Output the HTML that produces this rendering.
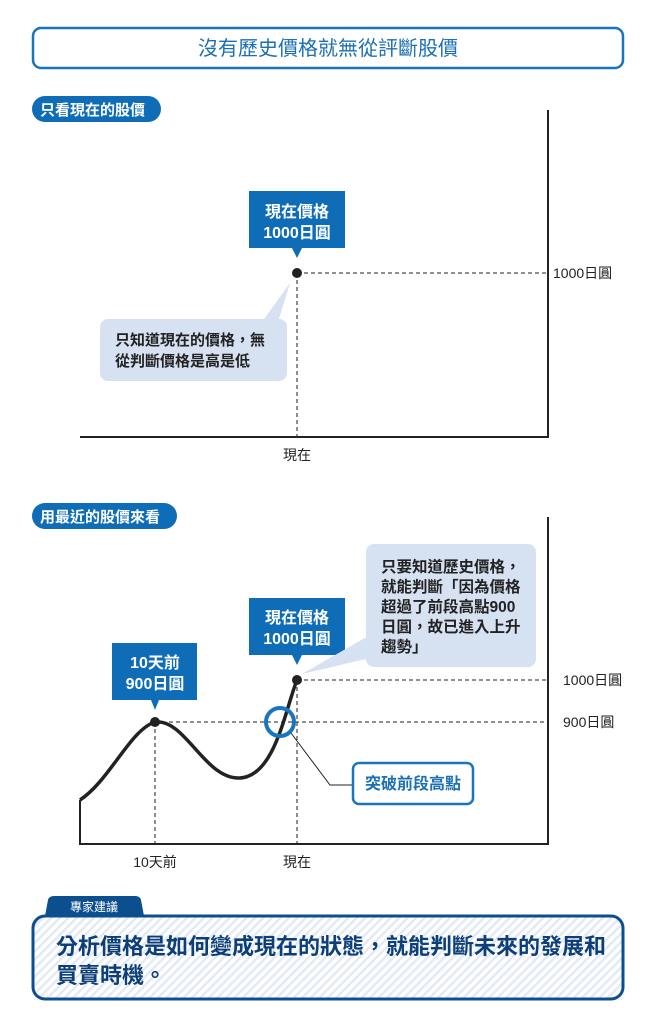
<!DOCTYPE html>
<html><head><meta charset="utf-8"><style>
body{margin:0;background:#fff;}
svg{display:block;font-family:"Liberation Sans","Noto Sans CJK TC",sans-serif;}
</style></head><body>
<svg width="655" height="1024" viewBox="0 0 655 1024">
<defs>
<pattern id="st" width="6" height="6" patternUnits="userSpaceOnUse" patternTransform="rotate(45)">
<rect width="6" height="6" fill="#fff"/><rect width="2.5" height="6" fill="#e3eaf5"/>
</pattern>
</defs>
<rect x="33" y="28" width="590" height="40" rx="8" fill="#fff" stroke="#1a75bc" stroke-width="2.5"/>
<text x="328" y="55" font-size="20" fill="#1a6fb5" text-anchor="middle">沒有歷史價格就無從評斷股價</text>
<rect x="32" y="96" width="129" height="26" rx="13" fill="#0f6db8"/>
<text x="40" y="115" font-size="15" font-weight="bold" fill="#fff">只看現在的股價</text>
<g stroke="#222" fill="none">
<path d="M548 110V437H80" stroke-width="2"/>
<path d="M297 273H548M297 273V437" stroke-width="1" stroke-dasharray="4,3"/>
</g>
<circle cx="297" cy="273" r="5" fill="#222"/>
<text x="553" y="278" font-size="14" fill="#222">1000日圓</text>
<text x="297" y="460" font-size="14" fill="#222" text-anchor="middle">現在</text>
<path d="M249 191H345V248H302L297 258L292 248H249Z" fill="#0f6db8"/>
<text x="297" y="217" font-size="16" font-weight="bold" fill="#fff" text-anchor="middle">現在價格</text>
<text x="297" y="238" font-size="16" font-weight="bold" fill="#fff" text-anchor="middle">1000日圓</text>
<path d="M262 322L290 283L278 322Z" fill="#d6e1f2"/>
<rect x="100" y="319" width="187" height="62" rx="8" fill="#d6e1f2"/>
<text x="115" y="345" font-size="15" font-weight="bold" fill="#222">只知道現在的價格，無</text>
<text x="115" y="366" font-size="15" font-weight="bold" fill="#222">從判斷價格是高是低</text>
<rect x="32" y="503" width="145" height="26" rx="13" fill="#0f6db8"/>
<text x="40" y="522" font-size="15" font-weight="bold" fill="#fff">用最近的股價來看</text>
<g stroke="#222" fill="none">
<path d="M548 517V844H80V800" stroke-width="2"/>
<path d="M297 680H548M155 722H548M155 722V844M297 680V844" stroke-width="1" stroke-dasharray="4,3"/>
<path d="M80 800C110 780 130 730 155 722C185 718 205 780 240 778C275 776 285 710 297 680" stroke-width="3.5"/>
<path d="M291 733L330 785H352" stroke-width="1"/>
</g>
<circle cx="155" cy="722" r="5" fill="#222"/>
<circle cx="297" cy="680" r="5" fill="#222"/>
<circle cx="280" cy="722" r="14" fill="none" stroke="#1a75bc" stroke-width="4"/>
<text x="563" y="685" font-size="14" fill="#222">1000日圓</text>
<text x="563" y="727" font-size="14" fill="#222">900日圓</text>
<text x="155" y="867" font-size="14" fill="#222" text-anchor="middle">10天前</text>
<text x="297" y="867" font-size="14" fill="#222" text-anchor="middle">現在</text>
<path d="M249 598H345V655H302L297 665L292 655H249Z" fill="#0f6db8"/>
<text x="297" y="623" font-size="16" font-weight="bold" fill="#fff" text-anchor="middle">現在價格</text>
<text x="297" y="644" font-size="16" font-weight="bold" fill="#fff" text-anchor="middle">1000日圓</text>
<path d="M112 643H197V700H159L155 710L151 700H112Z" fill="#0f6db8"/>
<text x="155" y="668" font-size="16" font-weight="bold" fill="#fff" text-anchor="middle">10天前</text>
<text x="155" y="689" font-size="16" font-weight="bold" fill="#fff" text-anchor="middle">900日圓</text>
<path d="M370 635L302 674L370 658Z" fill="#d6e1f2"/>
<rect x="366" y="544" width="170" height="123" rx="8" fill="#d6e1f2"/>
<g font-size="15.5" font-weight="bold" fill="#222">
<text x="381" y="572">只要知道歷史價格，</text>
<text x="381" y="592">就能判斷「因為價格</text>
<text x="381" y="612">超過了前段高點900</text>
<text x="381" y="632">日圓，故已進入上升</text>
<text x="381" y="652">趨勢」</text>
</g>
<rect x="353" y="763" width="120" height="41" rx="6" fill="#fff" stroke="#1a75bc" stroke-width="2.5"/>
<text x="413" y="789" font-size="16" font-weight="bold" fill="#1a6fb5" text-anchor="middle">突破前段高點</text>
<path d="M45 916L48 900Q49 896 54 896H135Q140 896 141 900L144 916Z" fill="#0c4f8f"/>
<text x="94" y="911" font-size="12" fill="#fff" text-anchor="middle">專家建議</text>
<rect x="33" y="916" width="590" height="83" rx="12" fill="url(#st)" stroke="#0c4f8f" stroke-width="3"/>
<text x="56" y="954" font-size="22" font-weight="bold" fill="#0c3f78">分析價格是如何變成現在的狀態，就能判斷未來的發展和</text>
<text x="56" y="983" font-size="22" font-weight="bold" fill="#0c3f78">買賣時機。</text>
</svg>
</body></html>
